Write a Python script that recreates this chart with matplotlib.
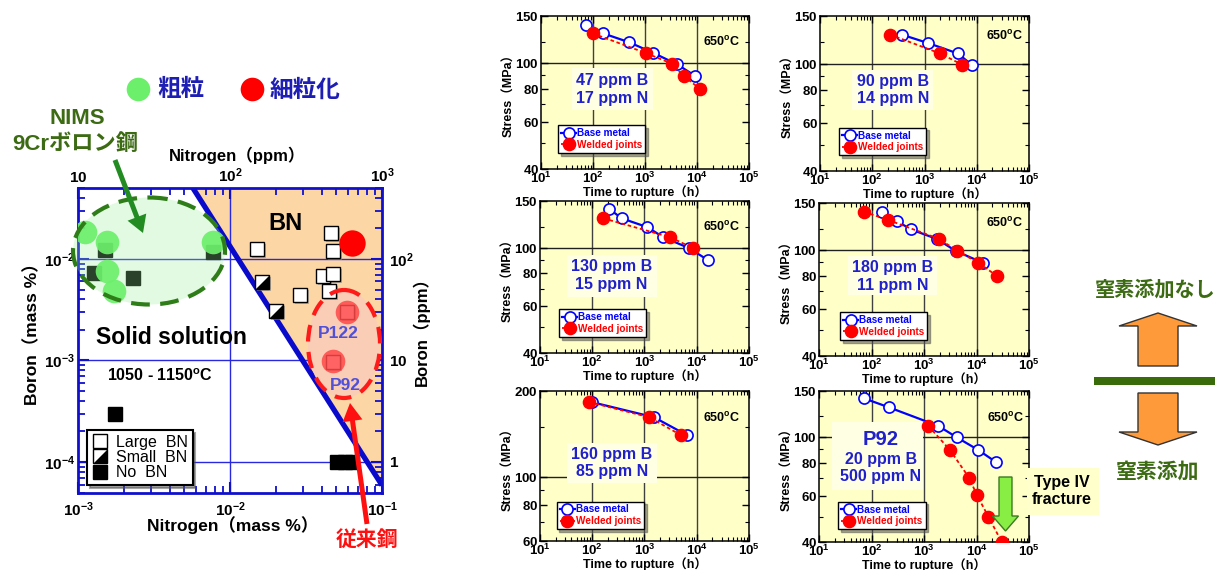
import numpy as np
import matplotlib
matplotlib.use('Agg')
import matplotlib.pyplot as plt
from matplotlib.patches import Ellipse, Polygon, FancyArrow, Rectangle
from matplotlib.lines import Line2D
from matplotlib.transforms import Affine2D
from matplotlib.ticker import FixedLocator, NullLocator, NullFormatter, LogLocator
import matplotlib.patheffects as pe

plt.rcParams['font.family'] = ['Liberation Sans', 'Noto Sans CJK JP']
plt.rcParams['mathtext.fontset'] = 'custom'
plt.rcParams['mathtext.rm'] = 'Liberation Sans'
plt.rcParams['mathtext.bf'] = 'Liberation Sans:bold'
plt.rcParams['mathtext.it'] = 'Liberation Sans:italic'

# ---------------- data: B-N map (mass %) ----------------
large_bn_N = [0.0151, 0.0461, 0.0476, 0.041, 0.0476, 0.0289, 0.0448, 0.059, 0.0476]
large_bn_B = [0.0126, 0.018, 0.012, 0.0068, 0.0071, 0.0044, 0.0048, 0.0030, 0.00096]
small_bn_N = [0.0162, 0.0201]
small_bn_B = [0.0059, 0.0031]
no_bn_N = [0.00127, 0.0023, 0.0015, 0.0077, 0.00174, 0.0506, 0.0571, 0.0635]
no_bn_B = [0.0073, 0.0065, 0.0122, 0.0117, 0.0003, 0.0001, 0.0001, 0.0001]
coarse_N = [0.00111, 0.00155, 0.0077, 0.00155, 0.00173]
coarse_B = [0.0185, 0.0148, 0.0148, 0.0076, 0.0048]
fine_N = [0.0635, 0.059, 0.0476]
fine_B = [0.0145, 0.0030, 0.00098]
bn_line_N = [0.0057, 0.1]
bn_line_B = [0.05, 5.9e-5]

# ---------------- data: creep rupture panels (650 C) ----------------
p1_base_t = [72, 158, 499, 1445, 4074, 9120]
p1_base_s = [139, 129, 119.5, 109, 99, 89.5]
p1_weld_t = [99, 1030, 3240, 5620, 11430]
p1_weld_s = [129, 109, 99.5, 89, 80]

p2_base_t = [366, 1183, 4316, 8000]
p2_base_s = [128, 119, 109, 99]
p2_weld_t = [219, 1982, 5280]
p2_weld_s = [128, 109, 99]

p3_base_t = [212, 366, 1132, 2291, 7200, 16630]
p3_base_s = [140, 129, 119.5, 109.5, 99.5, 89.5]
p3_weld_t = [163, 3076, 8590]
p3_weld_s = [129, 109.5, 99.5]

p4_base_t = [156, 302, 558, 1746, 4074, 13130]
p4_base_s = [139, 128.5, 119.5, 110, 99, 89.5]
p4_weld_t = [72, 209, 1932, 4200, 10800, 24270]
p4_weld_s = [139, 129.5, 110, 99.5, 89.5, 80]

p5_base_t = [97, 1520, 6430]
p5_base_s = [183, 162, 140.5]
p5_weld_t = [88, 1236, 4930]
p5_weld_s = [183, 162, 140.5]

p6_base_t = [73, 215, 1870, 4200, 10800, 23500]
p6_base_s = [140.5, 130, 110.5, 100, 89.5, 80.5]
p6_weld_t = [1208, 3126, 7290, 10100, 16800, 30200]
p6_weld_s = [110.5, 89.5, 70, 60.5, 50, 40]

panel_labels = ['47 ppm B\n17 ppm N', '90 ppm B\n14 ppm N', '130 ppm B\n15 ppm N',
                '180 ppm B\n11 ppm N', '160 ppm B\n85 ppm N', '20 ppm B\n500 ppm N']

# ---------------- figure ----------------
W, H = 1226, 570
fig = plt.figure(figsize=(W / 100, H / 100), dpi=100)
PX = Affine2D().scale(1.0 / W, -1.0 / H).translate(0, 1) + fig.transFigure


def frect(x, y, w, h):
    return [x / W, 1 - (y + h) / H, w / W, h / H]


def ftext(x, y, s, **kw):
    kw.setdefault('ha', 'center')
    kw.setdefault('va', 'center')
    return fig.text(x, y, s, transform=PX, **kw)


def mbf(s):
    return r'$\mathbf{' + s + '}$'


BLUE = '#1010CC'
ORANGE = '#FCD6A4'

# ================= left chart =================
ax = fig.add_axes(frect(78, 188, 304, 305))
ax.set_xscale('log')
ax.set_yscale('log')

ax.fill([bn_line_N[0], 0.1, bn_line_N[1]], [bn_line_B[0], 0.05, bn_line_B[1]],
        color=ORANGE, lw=0, zorder=0.5)
ax.axvline(1e-2, color='#2828E0', lw=1, zorder=1)
for v in (1e-2, 1e-3, 1e-4):
    ax.axhline(v, color='#2828E0', lw=1, zorder=1)
ax.plot(bn_line_N, bn_line_B, color='#0A0ACC', lw=3.8, zorder=2, solid_capstyle='butt')

# red ellipse fill
ax.add_artist(Ellipse((344, 344), 72, 108, transform=PX, fc='#FACDB6', ec='none',
                      zorder=2.5, clip_on=False))

shadow = [pe.SimplePatchShadow(offset=(1.5, -1.5), shadow_rgbFace='#888888', alpha=0.6), pe.Normal()]
tri = [(-1, -1), (1, -1), (1, 1), (-1, -1)]
ax.plot(large_bn_N, large_bn_B, ls='none', marker='s', ms=10, mfc='white', mec='black',
        mew=1, zorder=3, path_effects=shadow)
ax.plot(small_bn_N, small_bn_B, ls='none', marker='s', ms=10, mfc='white', mec='black',
        mew=1, zorder=3, path_effects=shadow)
ax.plot(small_bn_N, small_bn_B, ls='none', marker=tri, ms=10, mfc='black', mec='none', zorder=3.1)
ax.plot(no_bn_N, no_bn_B, ls='none', marker='s', ms=10, mfc='black', mec='black', zorder=3)

# green ellipse (fill over squares)
ax.add_artist(Ellipse((149, 251), 152, 107, transform=PX, fc='#99EE99', alpha=0.28,
                      ec='none', zorder=4, clip_on=False))

ax.plot(coarse_N, coarse_B, ls='none', marker='o', ms=17, mfc='#6CF06C', mec='none',
        alpha=0.92, zorder=5)
ax.plot(fine_N[:1], fine_B[:1], ls='none', marker='o', ms=19, mfc='#FF0000', mec='none', zorder=5)
ax.plot(fine_N[1:], fine_B[1:], ls='none', marker='o', ms=17, mfc='#FF4848', mec='none',
        alpha=0.85, zorder=5)

ax.add_artist(Ellipse((149, 251), 152, 107, transform=PX, fill=False, ec='#2E7D18', lw=3,
                      ls=(0, (4.5, 2.5)), zorder=6, clip_on=False))
ax.add_artist(Ellipse((344, 344), 72, 108, transform=PX, fill=False, ec='#FF1A1A', lw=3,
                      ls=(0, (4.0, 2.5)), zorder=6, clip_on=False))

ax.set_xlim(1e-3, 1e-1)
ax.set_ylim(4.95e-5, 5.0e-2)
ax.xaxis.set_major_locator(FixedLocator([1e-3, 1e-2, 1e-1]))
ax.set_xticklabels([mbf('10^{-3}'), mbf('10^{-2}'), mbf('10^{-1}')])
ax.yaxis.set_major_locator(FixedLocator([1e-4, 1e-3, 1e-2]))
ax.set_yticklabels([mbf('10^{-4}'), mbf('10^{-3}'), mbf('10^{-2}')])
ax.xaxis.set_minor_locator(LogLocator(subs=np.arange(2, 10)))
ax.yaxis.set_minor_locator(LogLocator(subs=np.arange(2, 10)))
ax.xaxis.set_minor_formatter(NullFormatter())
ax.yaxis.set_minor_formatter(NullFormatter())
ax.tick_params(which='both', direction='in', top=True, right=True, color=BLUE, labelsize=11)
ax.tick_params(which='major', length=8, width=1.5)
ax.tick_params(which='minor', length=5, width=1.3)
ax.tick_params(axis='x', pad=5)
ax.tick_params(axis='y', pad=2)
for s in ax.spines.values():
    s.set_color(BLUE)
    s.set_linewidth(2)

sx = ax.secondary_xaxis('top', functions=(lambda v: v * 1e4, lambda v: v / 1e4))
sx.set_xticks([10, 100, 1000], labels=[mbf('10'), mbf('10^{2}'), mbf('10^{3}')])
sx.xaxis.set_minor_locator(NullLocator())
sx.tick_params(length=0, pad=2, labelsize=11)
sx.spines['top'].set_visible(False)

sy = ax.secondary_yaxis('right', functions=(lambda v: v * 1e4, lambda v: v / 1e4))
sy.set_yticks([1, 10, 100], labels=[mbf('1'), mbf('10'), mbf('10^{2}')])
sy.yaxis.set_minor_locator(NullLocator())
sy.tick_params(length=0, pad=5, labelsize=11)
sy.spines['right'].set_visible(False)

# legend
h1 = Line2D([], [], ls='none', marker='s', ms=10, mfc='white', mec='black', mew=1)
h2a = Line2D([], [], ls='none', marker='s', ms=10, mfc='white', mec='black', mew=1)
h2b = Line2D([], [], ls='none', marker=tri, ms=10, mfc='black', mec='none')
h3 = Line2D([], [], ls='none', marker='s', ms=10, mfc='black', mec='black')
leg = ax.legend([h1, (h2a, h2b), h3], ['Large  BN', 'Small  BN', 'No  BN'], loc='lower left',
                bbox_to_anchor=(0.03, 0.026), borderaxespad=0, fancybox=False, shadow=True,
                edgecolor='black', framealpha=1, prop={'size': 11.5}, handlelength=1.0,
                handletextpad=0.5, labelspacing=0.02, borderpad=0.3)
leg.get_frame().set_linewidth(1.5)
leg.set_zorder(8)

# left chart texts
ftext(237, 155, 'Nitrogen（ppm）', fontsize=12, weight='bold')
ftext(233, 525, 'Nitrogen（mass %）', fontsize=12.5, weight='bold')
ftext(32, 330, 'Boron（mass %）', fontsize=12.5, weight='bold', rotation=90)
ftext(421, 327, 'Boron（ppm）', fontsize=12, weight='bold', rotation=90)
ftext(286, 223, 'BN', fontsize=17, weight='bold')
ftext(171, 338, 'Solid solution', fontsize=16.5, weight='bold')
ftext(160, 376, r'1050 - 1150$\mathbf{^{o}}$C', fontsize=11.5, weight='bold')
ftext(338, 333, 'P122', fontsize=12.5, weight='bold', color='#5050D8')
ftext(345, 386, 'P92', fontsize=12.5, weight='bold', color='#5050D8')

# top legend circles
fig.add_artist(Line2D([138], [89], transform=PX, ls='none', marker='o', ms=17,
                      mfc='#6CF06C', mec='none'))
fig.add_artist(Line2D([252], [89], transform=PX, ls='none', marker='o', ms=17,
                      mfc='#FF0000', mec='none'))
ftext(157, 90, '粗粒', fontsize=17, weight='bold', color='#1E1EB4', ha='left')
ftext(270, 90, '細粒化', fontsize=17, weight='bold', color='#1E1EB4', ha='left')

ftext(77, 118, 'NIMS', fontsize=16, weight='bold', color='#3D6B14')
ftext(75, 145, '9Crボロン鋼', fontsize=16, weight='bold', color='#3D6B14')
fig.add_artist(FancyArrow(115, 160, 28, 73, width=5, head_width=20, head_length=17,
                          length_includes_head=True, fc='#228B22', ec='none',
                          transform=PX, zorder=7))
fig.add_artist(FancyArrow(367, 524, -17, -121, width=5, head_width=20, head_length=18,
                          length_includes_head=True, fc='#FF1010', ec='none',
                          transform=PX, zorder=7))
ftext(367, 540, '従来鋼', fontsize=15, weight='bold', color='#FF1010')


# ================= creep panels =================
def creep_panel(r, bt, bs, wt, ws, ylim, ylab, yminor, tpos, box, lpos, label, leg_anchor):
    a = fig.add_axes(frect(*r))
    a.set_facecolor('#FFFFC8')
    a.set_xscale('log')
    a.set_yscale('log')
    for v in (1e2, 1e3, 1e4):
        a.axvline(v, color='#404040', lw=1, zorder=1)
    a.axhline(100, color='#202020', lw=1, zorder=1)
    a.add_patch(Rectangle((box[0], box[1]), box[2] - box[0], box[3] - box[1],
                          transform=a.transAxes, fc='#FFFFE4', ec='none', zorder=1.5))
    a.plot(bt, bs, color='#0000FF', lw=1.6, marker='o', ms=8, mfc='white', mec='#0000FF',
           mew=1.2, zorder=3)
    a.plot(wt, ws, color='#FF0000', lw=1.3, ls=(0, (2, 1.5)), marker='o', ms=8.8,
           mfc='#FF0000', mec='#FF0000', zorder=4)
    a.set_xlim(10, 1e5)
    a.set_ylim(*ylim)
    a.xaxis.set_major_locator(FixedLocator([1e1, 1e2, 1e3, 1e4, 1e5]))
    a.set_xticklabels([mbf('10^{%d}' % k) for k in range(1, 6)])
    a.xaxis.set_minor_locator(LogLocator(subs=np.arange(2, 10)))
    a.xaxis.set_minor_formatter(NullFormatter())
    a.yaxis.set_major_locator(FixedLocator(ylab))
    a.set_yticklabels([mbf('%d' % v) for v in ylab])
    a.yaxis.set_minor_locator(FixedLocator(yminor))
    a.yaxis.set_minor_formatter(NullFormatter())
    a.tick_params(which='both', direction='in', top=True, right=True, labelsize=9.5, pad=1.5)
    a.tick_params(which='major', length=5, width=1)
    a.tick_params(which='minor', length=3, width=0.8)
    for s in a.spines.values():
        s.set_linewidth(1.1)
    a.text(tpos[0], tpos[1], mbf('650^{o}C'), transform=a.transAxes, ha='center',
           va='center', fontsize=9, zorder=6)
    if label is not None:
        a.text(lpos[0], lpos[1], label, transform=a.transAxes, ha='center', va='center',
               fontsize=11.5, weight='bold', color='#2020CC', linespacing=1.2, zorder=6)
    hb = Line2D([], [], color='#0000FF', lw=1.6, marker='o', ms=8, mfc='white',
                mec='#0000FF', mew=1.2)
    hw = Line2D([], [], color='#FF0000', lw=1.3, ls=(0, (2, 1.5)), marker='o', ms=8.8,
                mfc='#FF0000', mec='#FF0000')
    lg = a.legend([hb, hw], ['Base metal', 'Welded joints'], loc='lower left',
                  bbox_to_anchor=leg_anchor, borderaxespad=0, fancybox=False, shadow=True,
                  edgecolor='black', framealpha=1, prop={'size': 7.2, 'weight': 'bold'},
                  labelcolor=['#0000FF', '#FF0000'], handlelength=1.5, handletextpad=0.1,
                  labelspacing=0.15, borderpad=0.3)
    lg.get_frame().set_linewidth(1)
    lg.set_zorder(7)
    cx = r[0] + r[2] / 2
    ftext(r[0] - 32, r[1] + r[3] / 2, 'Stress（MPa）', fontsize=9, weight='bold', rotation=90)
    ftext(cx, r[1] + r[3] + 23, 'Time to rupture（h）', fontsize=9, weight='bold')
    return a


Y1 = [40, 60, 80, 100, 150]
Y1m = [50, 70, 90, 120]
creep_panel((541, 16, 208, 153), p1_base_t, p1_base_s, p1_weld_t, p1_weld_s, (40, 150), Y1, Y1m,
            (0.87, 0.832), (0.147, 0.386, 0.540, 0.658), (0.34, 0.52), panel_labels[0], (0.082, 0.105))
creep_panel((820, 16, 209, 155), p2_base_t, p2_base_s, p2_weld_t, p2_weld_s, (40, 150), Y1, Y1m,
            (0.885, 0.87), (0.152, 0.394, 0.542, 0.652), (0.348, 0.523), panel_labels[1], (0.092, 0.103))
creep_panel((540, 201, 209, 152), p3_base_t, p3_base_s, p3_weld_t, p3_weld_s, (40, 150), Y1, Y1m,
            (0.87, 0.831), (0.128, 0.37, 0.558, 0.645), (0.343, 0.51), panel_labels[2], (0.092, 0.107))
creep_panel((819, 203, 210, 153), p4_base_t, p4_base_s, p4_weld_t, p4_weld_s, (40, 150), Y1, Y1m,
            (0.886, 0.867), (0.14, 0.399, 0.56, 0.656), (0.351, 0.52), panel_labels[3], (0.1, 0.105))
creep_panel((540, 391, 209, 150), p5_base_t, p5_base_s, p5_weld_t, p5_weld_s, (60, 200),
            [60, 80, 100, 200], [70, 90, 150],
            (0.87, 0.822), (0.128, 0.385, 0.558, 0.651), (0.343, 0.52), panel_labels[4], (0.08, 0.08))
a6 = creep_panel((819, 391, 210, 151), p6_base_t, p6_base_s, p6_weld_t, p6_weld_s, (40, 150), Y1, Y1m,
                 (0.89, 0.823), (0.062, 0.344, 0.495, 0.795), (0.294, 0.49), None, (0.092, 0.086))
a6.text(0.294, 0.682, 'P92', transform=a6.transAxes, ha='center', va='center', fontsize=14.5,
        weight='bold', color='#2020CC', zorder=6)
a6.text(0.294, 0.49, panel_labels[5], transform=a6.transAxes, ha='center', va='center',
        fontsize=11.5, weight='bold', color='#2020CC', linespacing=1.1, zorder=6)

# Type IV fracture annotation
fig.add_artist(Rectangle((1027, 468), 72, 47, transform=PX, fc='#FFFFCC', ec='none', zorder=5))
ftext(1062, 491, 'Type IV\nfracture', fontsize=11.5, weight='bold', linespacing=1.25, zorder=6)
fig.add_artist(FancyArrow(1005.5, 477, 0, 54, width=13, head_width=26, head_length=15,
                          length_includes_head=True, fc='#88EE44', ec='#3A7A20', lw=1,
                          transform=PX, zorder=6))

# right side arrows
ftext(1155, 290, '窒素添加なし', fontsize=14.5, weight='bold', color='#3D6B14')
fig.add_artist(FancyArrow(1158, 366, 0, -53, width=40, head_width=78, head_length=13,
                          length_includes_head=True, fc='#FF9A3A', ec='#333333', lw=1,
                          transform=PX, zorder=5))
fig.add_artist(Rectangle((1094, 377), 121, 8, transform=PX, fc='#3A6B0A', ec='none', zorder=5))
fig.add_artist(FancyArrow(1158, 393, 0, 52, width=40, head_width=78, head_length=13,
                          length_includes_head=True, fc='#FF9A3A', ec='#333333', lw=1,
                          transform=PX, zorder=5))
ftext(1158, 472, '窒素添加', fontsize=15, weight='bold', color='#3D6B14')

fig.savefig('out.png', dpi=100)
